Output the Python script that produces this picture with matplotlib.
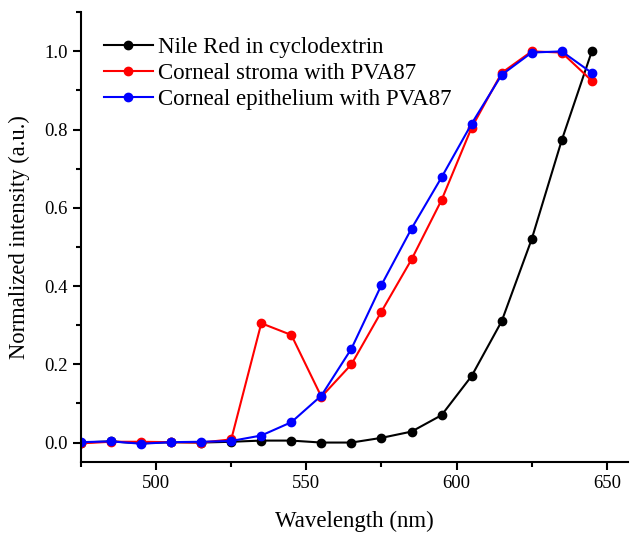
import numpy as np
import matplotlib.pyplot as plt
from matplotlib.ticker import MultipleLocator

# Wavelengths (nm)
wavelength = [475, 485, 495, 505, 515, 525, 535, 545, 555,
              565, 575, 585, 595, 605, 615, 625, 635, 645]

# Normalized intensities
nile_red = [0.0, 0.003, -0.002, 0.001, 0.0, 0.002, 0.005, 0.005, 0.0,
            0.0, 0.012, 0.028, 0.07, 0.17, 0.31, 0.52, 0.773, 1.0]
stroma = [-0.002, 0.002, 0.002, 0.001, 0.0, 0.008, 0.305, 0.275, 0.117,
          0.2, 0.335, 0.468, 0.62, 0.805, 0.945, 1.0, 0.997, 0.925]
epithelium = [0.001, 0.003, -0.003, 0.001, 0.002, 0.004, 0.018, 0.052, 0.12,
              0.24, 0.403, 0.547, 0.678, 0.815, 0.94, 0.997, 1.0, 0.945]

labels = ['Nile Red in cyclodextrin', 'Corneal stroma with PVA87',
          'Corneal epithelium with PVA87']

plt.rcParams['font.family'] = ['Liberation Serif', 'DejaVu Serif']

fig = plt.figure(figsize=(6.3, 5.33), dpi=100)
ax = fig.add_axes([0.1286, 0.133, 0.868, 0.844])

ax.plot(wavelength, nile_red, '-o', color='black', ms=6, lw=1.5, label=labels[0])
ax.plot(wavelength, stroma, '-o', color='red', ms=6, lw=1.5, label=labels[1])
ax.plot(wavelength, epithelium, '-o', color='blue', ms=6, lw=1.5, label=labels[2])

ax.set_xlim(475, 657)
ax.set_ylim(-0.05, 1.1)
ax.xaxis.set_major_locator(MultipleLocator(50))
ax.xaxis.set_minor_locator(MultipleLocator(25))
ax.yaxis.set_major_locator(MultipleLocator(0.2))
ax.yaxis.set_minor_locator(MultipleLocator(0.1))
ax.yaxis.set_major_formatter(plt.FormatStrFormatter('%.1f'))

ax.spines['top'].set_visible(False)
ax.spines['right'].set_visible(False)
ax.spines['left'].set_linewidth(1.5)
ax.spines['bottom'].set_linewidth(1.5)
ax.tick_params(which='major', direction='out', length=6, width=1.5, labelsize=13.5)
ax.tick_params(which='minor', direction='out', length=3.5, width=1.5)

ax.set_xlabel('Wavelength (nm)', fontsize=16.5, labelpad=13)
ax.set_ylabel('Normalized intensity (a.u.)', fontsize=16.3, labelpad=10)

ax.legend(loc='upper left', bbox_to_anchor=(0.005, 0.99), frameon=False, fontsize=16.5,
          handlelength=2.1, handletextpad=0.25, labelspacing=0.2, borderaxespad=0.5)

fig.savefig('out.png', dpi=100)
